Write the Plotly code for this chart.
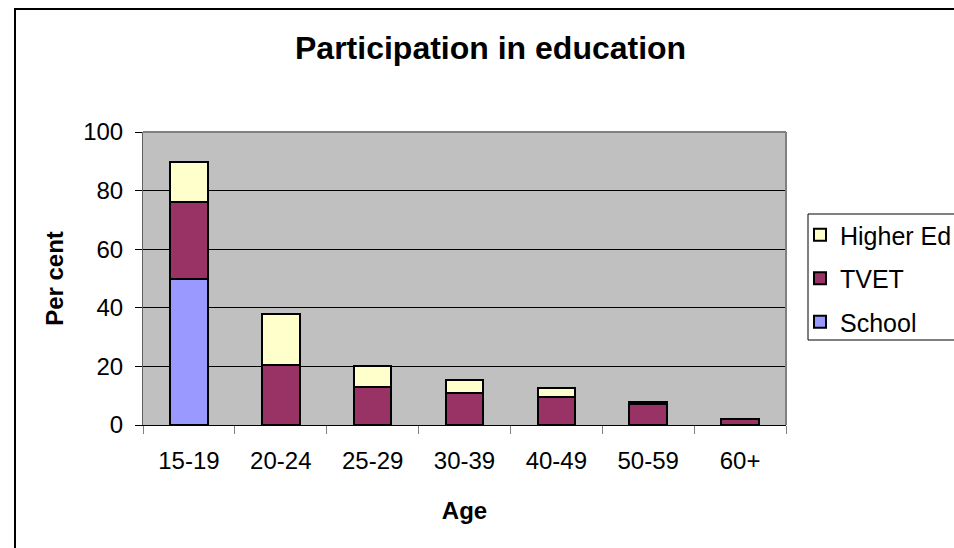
import plotly.graph_objects as go

ages = ["15-19", "20-24", "25-29", "30-39", "40-49", "50-59", "60+"]
school = [50, None, None, None, None, None, None]
tvet = [26, 20.5, 13, 11, 9.7, 7, 2.2]
higher_ed = [13.6, 17.4, 7, 4.3, 2.9, 0.9, None]
y_ticks = [0, 20, 40, 60, 80, 100]

FONT = "Liberation Sans, Arial, sans-serif"

W, H = 954, 548
# plot area bounds in page pixels
L, R, T, B = 143, 786, 132, 425
pw, ph = R - L, B - T

def px_x(x):
    return (x - L) / pw

def px_y(y):
    return (B - y) / ph

fig = go.Figure()
line = dict(color="black", width=2)
fig.add_trace(go.Bar(name="School", x=ages, y=school, marker=dict(color="#9999FF", line=line),
                     legendgroup="a", legendrank=3))
fig.add_trace(go.Bar(name="TVET", x=ages, y=tvet, marker=dict(color="#993366", line=line),
                     legendgroup="b", legendrank=2))
fig.add_trace(go.Bar(name="Higher Ed", x=ages, y=higher_ed, marker=dict(color="#FFFFCC", line=line),
                     legendgroup="c", legendrank=1))

fig.update_layout(
    width=W, height=H,
    margin=dict(l=L, r=W - R, t=T, b=H - B, pad=0, autoexpand=False),
    paper_bgcolor="white",
    plot_bgcolor="#C0C0C0",
    barmode="stack",
    bargap=0.59,
    font=dict(family=FONT, size=24, color="black"),
    showlegend=True,
    legend=dict(
        x=px_x(800), y=px_y(212), xanchor="left", yanchor="top",
        bgcolor="rgba(0,0,0,0)", borderwidth=0,
        traceorder="grouped", tracegroupgap=8,
        font=dict(family=FONT, size=25, color="black"),
    ),
    xaxis=dict(
        showline=True, linecolor="black", linewidth=1,
        ticks="outside", tickson="boundaries", ticklen=8, tickcolor="#808080",
        tickfont=dict(size=24), ticklabelstandoff=14,
        title=dict(text="<b>Age</b>", font=dict(size=24), standoff=29),
        showgrid=False,
    ),
    yaxis=dict(
        range=[0, 100], tickvals=y_ticks,
        showline=True, linecolor="#606060", linewidth=1,
        ticks="outside", ticklen=7, tickcolor="black",
        tickfont=dict(size=24), ticklabelstandoff=7,
        showgrid=True, gridcolor="black", gridwidth=1,
        zeroline=False,
        title=dict(text="<b>Per cent</b>", font=dict(size=24), standoff=12),
    ),
    annotations=[
        dict(text="<b>Participation in education</b>", xref="paper", yref="paper",
             x=px_x(490), y=px_y(48), xanchor="center", yanchor="middle",
             showarrow=False, font=dict(family=FONT, size=32, color="black")),
    ],
    shapes=[
        # chart outer border
        dict(type="rect", xref="paper", yref="paper",
             x0=px_x(15), x1=px_x(985), y0=px_y(580), y1=px_y(9),
             line=dict(color="black", width=2), layer="below"),
        # legend box
        dict(type="rect", xref="paper", yref="paper",
             x0=px_x(808), x1=px_x(985), y0=px_y(340), y1=px_y(214),
             line=dict(color="black", width=1), fillcolor="white", layer="below"),
        # plot area top/right border (gray)
        dict(type="line", xref="paper", yref="paper", x0=0, x1=1, y0=1, y1=1,
             line=dict(color="#808080", width=2)),
        dict(type="line", xref="paper", yref="paper", x0=1, x1=1, y0=0, y1=1,
             line=dict(color="#808080", width=2)),
    ],
)

fig.write_html(
    "out.html",
    config={"displayModeBar": False},
    post_script="document.body.style.margin='0';document.body.style.overflow='hidden';",
)
